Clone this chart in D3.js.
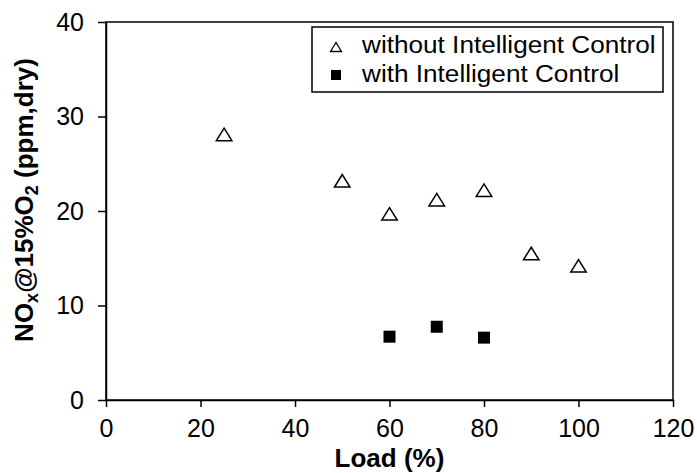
<!DOCTYPE html>
<html>
<head>
<meta charset="utf-8">
<script src="https://cdn.jsdelivr.net/npm/d3@7"></script>
<style>
  body { margin: 0; background: #fff; }
  text { font-family: "Liberation Sans", Arial, sans-serif; }
</style>
</head>
<body>
<svg id="chart" width="697" height="473"></svg>
<script>
// data
var loadWithout = [25, 50, 60, 70, 80, 90, 100];
var noxWithout  = [28.1, 23.2, 19.7, 21.2, 22.2, 15.5, 14.2];
var loadWith = [60, 70, 80];
var noxWith  = [6.7, 7.75, 6.6];
var xTicks = [0, 20, 40, 60, 80, 100, 120];
var yTicks = [0, 10, 20, 30, 40];
var legendLabels = ["without Intelligent Control", "with Intelligent Control"];

var svg = d3.select("#chart");
var plotL = 106, plotR = 673, plotT = 22, plotB = 400;

var x = d3.scaleLinear().domain([0, 120]).range([plotL, plotR]);
var y = d3.scaleLinear().domain([0, 40]).range([plotB, plotT]);

// frame
svg.append("rect")
    .attr("x", plotL).attr("y", plotT)
    .attr("width", plotR - plotL).attr("height", plotB - plotT)
    .attr("fill", "none").attr("stroke", "#000").attr("stroke-width", 1.5);

var xAxis = svg.append("g")
    .attr("transform", "translate(0," + plotB + ")")
    .call(d3.axisBottom(x).tickValues(xTicks).tickSize(7).tickSizeOuter(0).tickPadding(12));
var yAxis = svg.append("g")
    .attr("transform", "translate(" + plotL + ",0)")
    .call(d3.axisLeft(y).tickValues(yTicks).tickSize(8).tickSizeOuter(0).tickPadding(14));

[xAxis, yAxis].forEach(function(g) {
  g.select(".domain").attr("stroke-width", 1.5);
  g.selectAll(".tick line").attr("stroke-width", 1.5);
  g.selectAll(".tick text").style("font-size", "25px").attr("fill", "#000");
});

// axis titles
svg.append("text")
    .attr("x", (plotL + plotR) / 2).attr("y", 467)
    .attr("text-anchor", "middle")
    .style("font-size", "26px").style("font-weight", "bold")
    .text("Load (%)");

var yt = svg.append("text")
    .attr("transform", "translate(33,200) rotate(-90)")
    .attr("text-anchor", "middle")
    .style("font-size", "26px").style("font-weight", "bold");
yt.append("tspan").text("NO");
yt.append("tspan").text("x").style("font-size", "18px").attr("dy", 5);
yt.append("tspan").text("@15%O").attr("dy", -5);
yt.append("tspan").text("2").style("font-size", "18px").attr("dy", 5);
yt.append("tspan").text(" (ppm,dry)").attr("dy", -5);

function tri(cx, cy, w, h) {
  return "M" + (cx - w / 2) + "," + (cy + h / 2) +
         "L" + cx + "," + (cy - h / 2) +
         "L" + (cx + w / 2) + "," + (cy + h / 2) + "Z";
}

svg.append("g").selectAll("path")
    .data(d3.zip(loadWithout, noxWithout))
  .enter().append("path")
    .attr("d", function(d) { return tri(x(d[0]), y(d[1]), 15.5, 12.5); })
    .attr("fill", "#fff").attr("stroke", "#000").attr("stroke-width", 1.5);

svg.append("g").selectAll("rect")
    .data(d3.zip(loadWith, noxWith))
  .enter().append("rect")
    .attr("x", function(d) { return x(d[0]) - 6; })
    .attr("y", function(d) { return y(d[1]) - 6; })
    .attr("width", 12).attr("height", 12)
    .attr("fill", "#000");

// legend
var lg = svg.append("g");
lg.append("rect")
    .attr("x", 312).attr("y", 27).attr("width", 351).attr("height", 65)
    .attr("fill", "#fff").attr("stroke", "#000").attr("stroke-width", 1.5);
lg.append("path")
    .attr("d", tri(336, 47, 11, 9))
    .attr("fill", "#fff").attr("stroke", "#000").attr("stroke-width", 1.3);
lg.append("rect")
    .attr("x", 331).attr("y", 70).attr("width", 10).attr("height", 10)
    .attr("fill", "#000");
lg.selectAll("text.lbl")
    .data(legendLabels)
  .enter().append("text")
    .attr("class", "lbl")
    .attr("transform", function(d, i) { return "translate(362," + (53 + i * 29) + ") scale(1.09,1)"; })
    .style("font-size", "24px")
    .text(function(d) { return d; });
</script>
</body>
</html>
